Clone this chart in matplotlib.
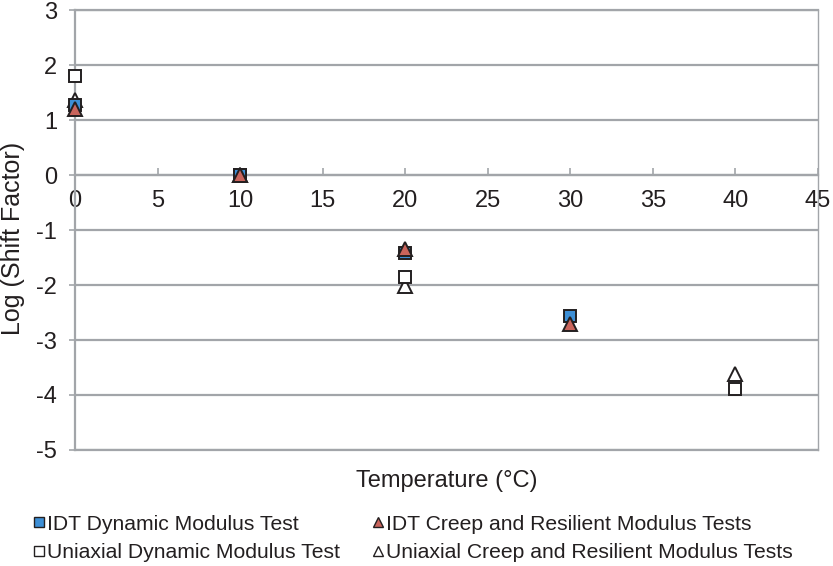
import matplotlib
matplotlib.use("Agg")
import matplotlib.pyplot as plt
from matplotlib.lines import Line2D

# ---------------------------------------------------------------------------
# Data
# ---------------------------------------------------------------------------
idt_dyn_temp = [0, 10, 20, 30]
idt_dyn_shift = [1.27, 0.0, -1.42, -2.56]

idt_creep_temp = [0, 10, 20, 30]
idt_creep_shift = [1.21, 0.0, -1.35, -2.70]

uni_dyn_temp = [0, 10, 20, 40]
uni_dyn_shift = [1.81, 0.0, -1.85, -3.90]

uni_creep_temp = [0, 10, 20, 40]
uni_creep_shift = [1.36, 0.0, -2.02, -3.62]

x_ticks = [0, 5, 10, 15, 20, 25, 30, 35, 40, 45]
y_ticks = [-5, -4, -3, -2, -1, 0, 1, 2, 3]

COLORS = {
    "blue": "#3d8fd6",
    "red": "#c9645c",
    "edge": "#231f20",
    "grid": "#a2a5a9",
    "text": "#231f20",
}

plt.rcParams["font.family"] = ["Liberation Sans", "DejaVu Sans"]
plt.rcParams["axes.unicode_minus"] = False

fig = plt.figure(figsize=(8.33, 5.66), dpi=100)
ax = fig.add_axes([0.090, 0.205, 0.892, 0.777])

ms = 10
mew = 1.4
series = [
    (uni_creep_temp, uni_creep_shift, "^", "white", ms, 3,
     "Uniaxial Creep and Resilient Modulus Tests"),
    (uni_dyn_temp, uni_dyn_shift, "s", "white", ms - 1, 3,
     "Uniaxial Dynamic Modulus Test"),
    (idt_dyn_temp, idt_dyn_shift, "s", COLORS["blue"], ms - 1, 4,
     "IDT Dynamic Modulus Test"),
    (idt_creep_temp, idt_creep_shift, "^", COLORS["red"], ms, 5,
     "IDT Creep and Resilient Modulus Tests"),
]
for xs, ys, mk, fc, size, z, lab in series:
    ax.plot(xs, ys, linestyle="none", marker=mk, ms=size, mfc=fc,
            mec=COLORS["edge"], mew=mew, zorder=z, clip_on=False, label=lab)

ax.set_xlim(0, 45)
ax.set_ylim(-5, 3)
ax.set_xticks(x_ticks)
ax.set_yticks(y_ticks)

# Excel style frame: horizontal gridlines, x axis through y = 0
ax.grid(axis="y", color=COLORS["grid"], linewidth=1.6, zorder=0)
ax.axhline(-5, color=COLORS["grid"], linewidth=1.6, clip_on=False, zorder=1)
ax.axhline(3, color=COLORS["grid"], linewidth=1.6, clip_on=False, zorder=1)
ax.set_axisbelow(True)
ax.spines["top"].set_visible(False)
ax.spines["right"].set_color(COLORS["grid"])
ax.spines["right"].set_linewidth(1.0)
ax.spines["left"].set_color(COLORS["grid"])
ax.spines["left"].set_linewidth(1.6)
ax.spines["bottom"].set_position(("data", 0))
ax.spines["bottom"].set_color(COLORS["grid"])
ax.spines["bottom"].set_linewidth(1.6)

ax.tick_params(axis="x", direction="in", length=5, width=1.2, color=COLORS["grid"],
               labelsize=17, pad=11, labelcolor=COLORS["text"])
ax.tick_params(axis="y", direction="out", length=4, width=1.2, color=COLORS["grid"],
               labelsize=17, pad=9, labelcolor=COLORS["text"])

fig.text(0.016, 0.578, "Log (Shift Factor)", rotation=90, ha="center", va="center",
         fontsize=18, color=COLORS["text"])
fig.text(0.536, 0.150, "Temperature (\u00b0C)", ha="center", va="center",
         fontsize=17, color=COLORS["text"])

handles, labels = ax.get_legend_handles_labels()
order = [2, 3, 1, 0]
leg_handles = []
for i in order:
    h = handles[i]
    leg_handles.append(Line2D([], [], linestyle="none", marker=h.get_marker(), ms=7,
                              mfc=h.get_markerfacecolor(), mec=COLORS["edge"], mew=1.0))
# column-major order for matplotlib legend with ncol=2
col_order = [0, 2, 1, 3]
fig.legend([leg_handles[i] for i in col_order], [labels[order[i]] for i in col_order],
           loc="center left", bbox_to_anchor=(0.026, 0.049), ncol=2, frameon=False,
           fontsize=15.2, handletextpad=0.0, handlelength=0.8, columnspacing=1.4,
           labelspacing=0.45, borderaxespad=0, labelcolor=COLORS["text"])

fig.savefig("out.png", dpi=100, facecolor="white")
